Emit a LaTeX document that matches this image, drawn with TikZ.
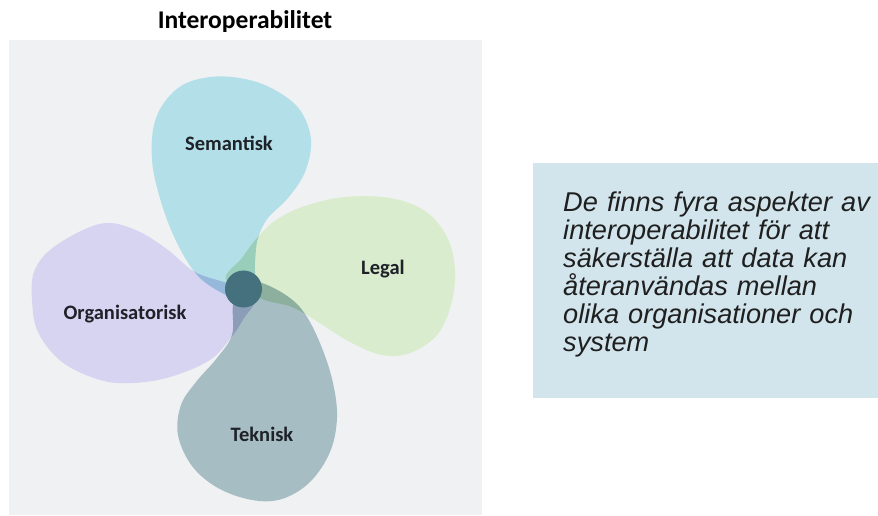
\documentclass[tikz,border=0pt]{standalone}
\usepackage{fontspec}
\usepackage{xcolor}
\usepackage{tikz}
\setmainfont{Carlito}
\newfontfamily\boxfont{Liberation Sans}

\definecolor{panelgray}{HTML}{F0F1F3}
\definecolor{boxblue}{HTML}{D2E5EC}
\definecolor{semcol}{HTML}{B3DFE8}
\definecolor{legcol}{HTML}{DAECCE}
\definecolor{orgcol}{HTML}{D7D4F1}
\definecolor{tekcol}{HTML}{A6BEC3}
\definecolor{hubcol}{HTML}{45707E}
\definecolor{inktext}{HTML}{1E2228}

\begin{document}
\begin{tikzpicture}[x=0.03cm, y=-0.03cm,
  lbl/.style={font=\bfseries\fontsize{17.5}{20}\selectfont, text=inktext, inner sep=0, anchor=base},
  petal/.style={smooth cycle, tension=0.6}]
\useasboundingbox (0,0) rectangle (878,516);

% backgrounds
\fill[panelgray] (9,40) rectangle (482,515);
\fill[boxblue] (533,163) rectangle (878,398);

\node[font=\bfseries\fontsize{21.8}{24}\selectfont, inner sep=0, anchor=base] (title) at (245,29) {Interoperabilitet};

% petals
\begin{scope}[blend group=multiply]
\fill[semcol] plot[petal] coordinates {(242,300) (222,293) (198,276) (178,245) (162,205) (152,160) (156,118) (178,88) (210,77) (245,79) (275,90) (300,110) (311,140) (305,172) (288,198) (268,218) (258,238) (255,262) (254,285)};
\fill[legcol] plot[petal] coordinates {(226,280) (242,258) (257,238) (276,220) (305,206) (345,197) (390,198) (425,211) (447,237) (455,270) (451,305) (437,335) (410,353) (382,355) (350,342) (318,322) (292,307) (262,299)};
\fill[orgcol] plot[petal] coordinates {(34,272) (50,250) (83,230) (110,223) (140,232) (168,250) (195,272) (227,283) (250,292) (255,302) (244,318) (233,335) (210,360) (170,377) (133,383) (100,380) (62,362) (38,332) (32,300)};
\fill[tekcol] plot[petal] coordinates {(240,282) (262,283) (290,298) (307,317) (322,348) (333,383) (337,418) (330,452) (310,482) (282,499) (252,500) (218,488) (192,466) (178,435) (181,405) (196,382) (217,358) (232,335) (233,305)};
\end{scope}

\node[circle, fill=hubcol, minimum size=1.11cm, inner sep=0] (hub) at (243.5,289) {};

\node[lbl] (sem) at (229,151) {Semantisk};
\node[lbl] (leg) at (383,275) {Legal};
\node[lbl] (org) at (125,319) {Organisatorisk};
\node[lbl] (tek) at (262,441) {Teknisk};

\node[font=\boxfont\itshape\fontsize{23.2}{23.9}\selectfont, text=black!88, text width=9.8cm, align=left, inner sep=0, anchor=north west] (info) at (563,192)
  {De finns fyra aspekter av\\ interoperabilitet för att\\ säkerställa att data kan\\ återanvändas mellan\\ olika organisationer och\\ system};
\end{tikzpicture}
\end{document}
